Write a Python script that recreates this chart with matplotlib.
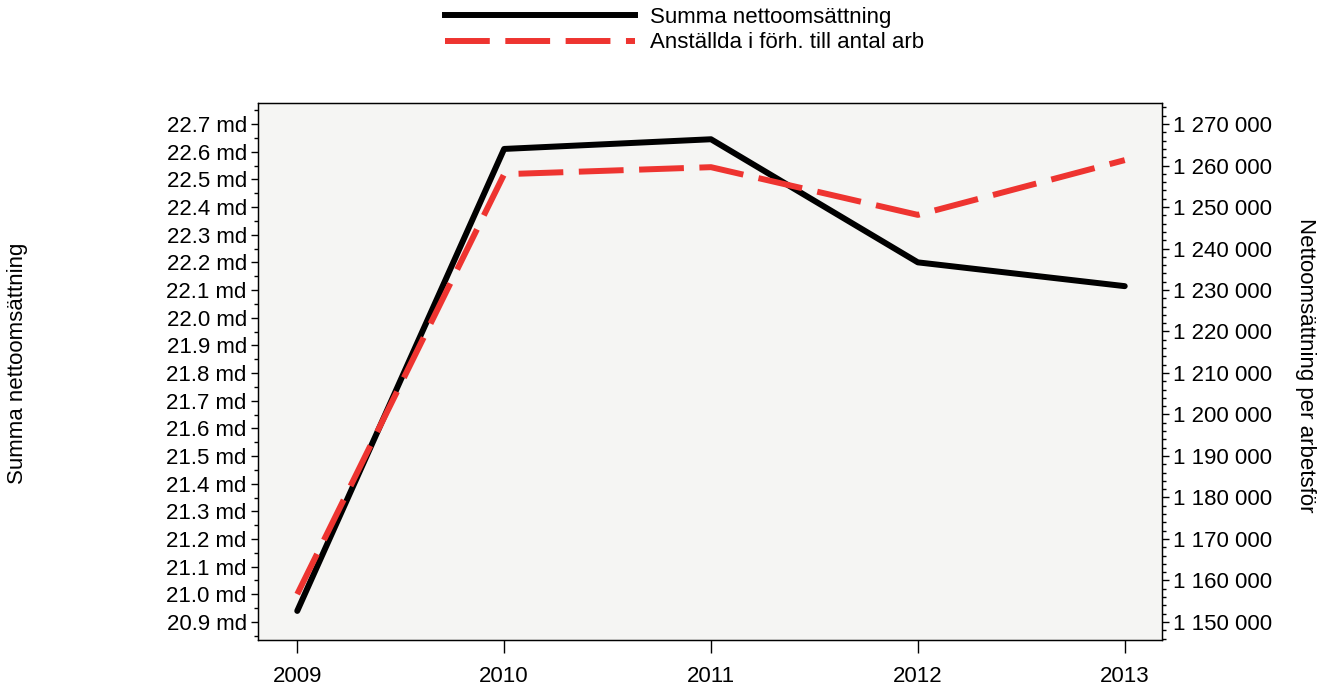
import numpy as np
import matplotlib.pyplot as plt
from matplotlib.ticker import MultipleLocator, FuncFormatter
from matplotlib.lines import Line2D

plt.rcParams['font.family'] = ['Liberation Sans', 'DejaVu Sans']

# data
years = [2009, 2010, 2011, 2012, 2013]
omsattning_md = [20.94, 22.61, 22.645, 22.20, 22.114]            # left axis, miljarder
per_arbetsfor = [1156700, 1257900, 1259600, 1248100, 1261300]    # right axis

label_black = 'Summa nettoomsättning'
label_red = 'Anställda i förh. till antal arb'
red = '#EE3430'
fs = 16
lw = 4.3
dash = (7.5, 2.6)

fig = plt.figure(figsize=(13.31, 6.9), dpi=100)
ax = fig.add_axes([0.1938, 0.0725, 0.6792, 0.7782])
ax.set_facecolor('#F5F5F3')
ax2 = ax.twinx()

ax.plot(years, omsattning_md, color='black', lw=lw, solid_capstyle='round', zorder=3)
ax2.plot(years, per_arbetsfor, color=red, lw=lw, dashes=dash, zorder=2)

ax.set_xlim(2008.81, 2013.18)
ax.set_ylim(20.835, 22.776)
ax2.set_ylim(1145660, 1275060)

ax.set_xticks(years)
ax.yaxis.set_major_locator(MultipleLocator(0.1))
ax.yaxis.set_minor_locator(MultipleLocator(0.05))
ax.yaxis.set_major_formatter(FuncFormatter(lambda v, p: f'{v:.1f} md'))
ax2.yaxis.set_major_locator(MultipleLocator(10000))
ax2.yaxis.set_minor_locator(MultipleLocator(2000))
ax2.yaxis.set_major_formatter(FuncFormatter(lambda v, p: f'{int(round(v)):,}'.replace(',', ' ')))

ax.tick_params(axis='y', labelsize=fs, length=5, width=1, direction='out', pad=3)
ax.tick_params(axis='y', which='minor', length=3, width=1)
ax.tick_params(axis='x', labelsize=fs, length=9, width=1, direction='out', pad=10)
ax2.tick_params(axis='y', labelsize=fs, length=5, width=1, direction='out', pad=3)
ax2.tick_params(axis='y', which='minor', length=3, width=1)

for a in (ax, ax2):
    for s in a.spines.values():
        s.set_linewidth(0.9)

fig.text(0.0135, 0.474, 'Summa nettoomsättning', rotation=90, fontsize=fs,
         ha='center', va='center')
fig.text(0.981, 0.471, 'Nettoomsättning per arbetsför', rotation=270, fontsize=fs,
         ha='center', va='center')

handles = [Line2D([], [], color='black', lw=lw),
           Line2D([], [], color=red, lw=lw, dashes=dash)]
fig.legend(handles, [label_black, label_red], loc='upper left',
           bbox_to_anchor=(0.3343, 0.990), frameon=False, fontsize=fs,
           handlelength=8.55, handletextpad=0.68, labelspacing=0.2,
           borderpad=0, borderaxespad=0)

plt.savefig('out.png', dpi=100)
plt.close()
